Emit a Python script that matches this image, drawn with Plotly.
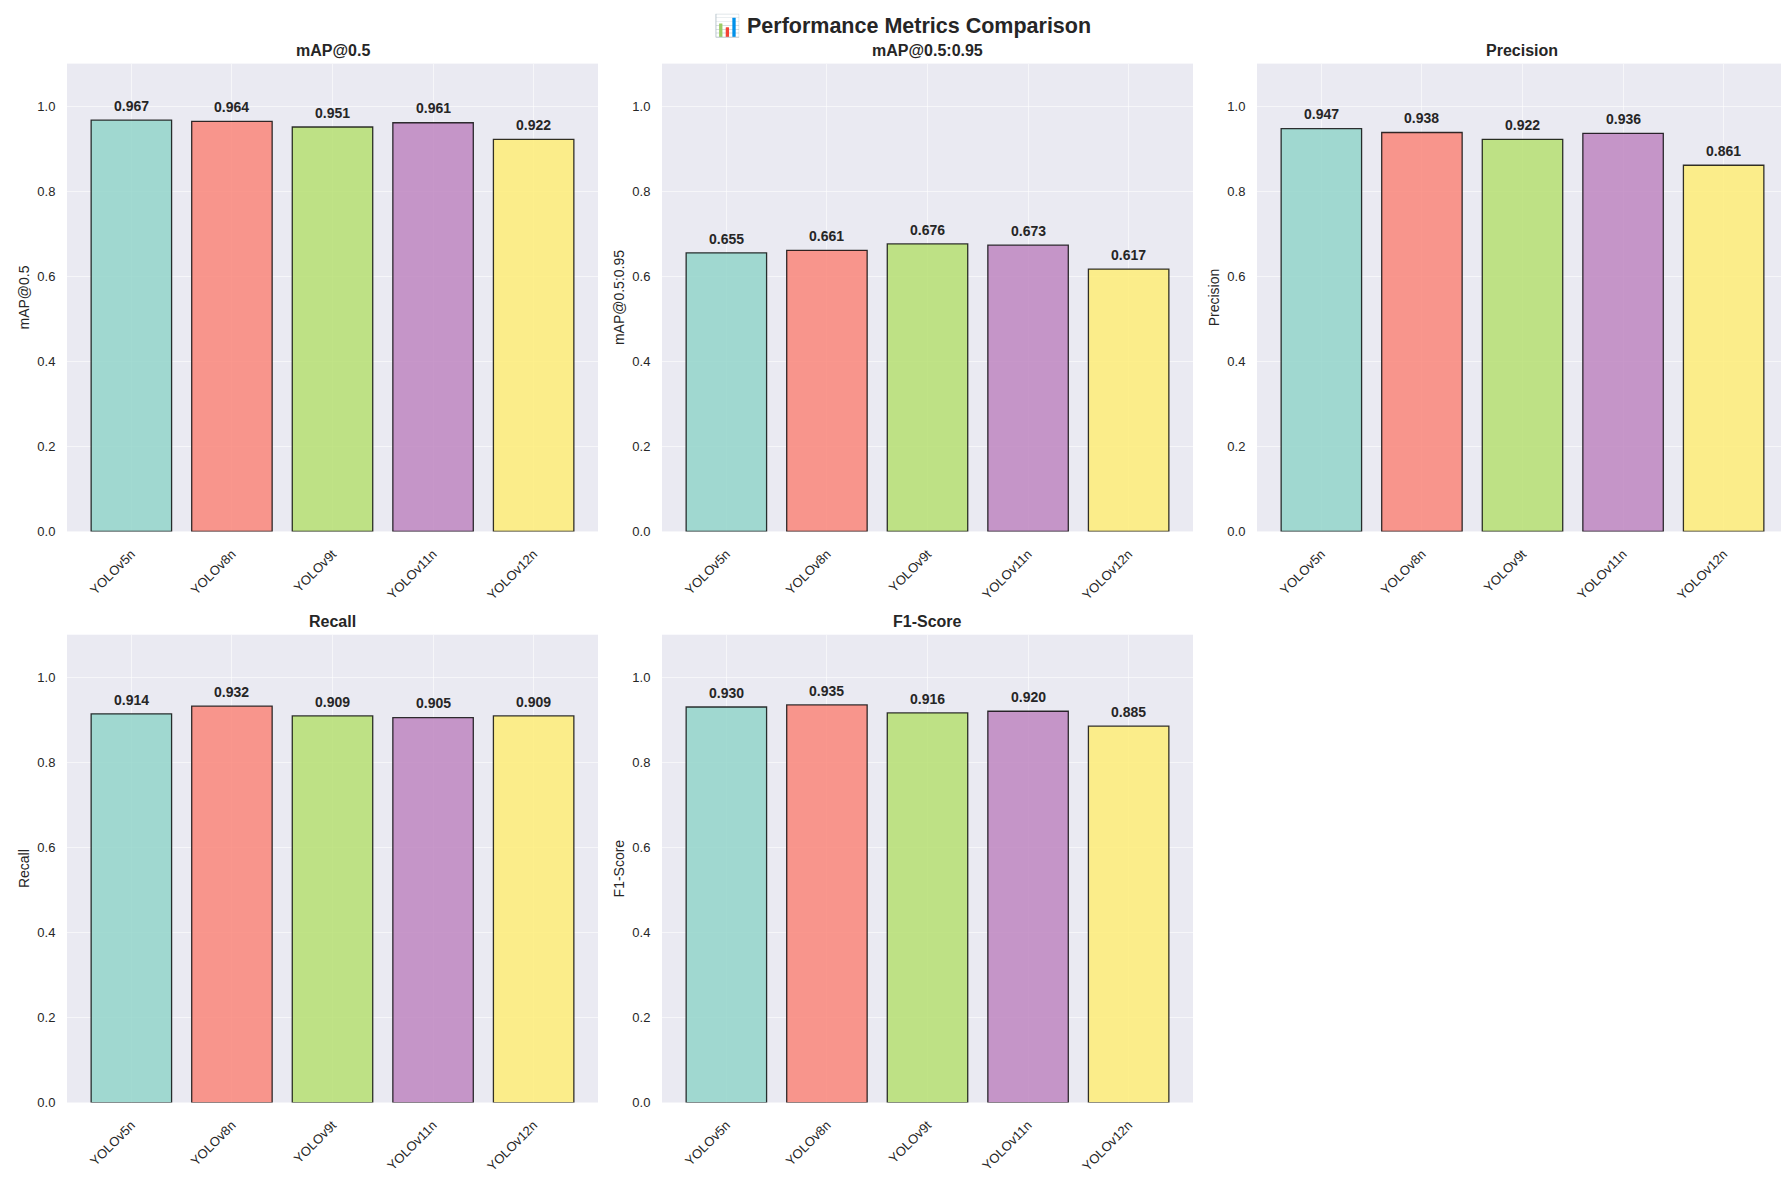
import plotly.graph_objects as go

# model names and metric values
models = ["YOLOv5n", "YOLOv8n", "YOLOv9t", "YOLOv11n", "YOLOv12n"]
metric_names = ["mAP@0.5", "mAP@0.5:0.95", "Precision", "Recall", "F1-Score"]

map50 = [0.967, 0.964, 0.951, 0.961, 0.922]
map50_95 = [0.655, 0.661, 0.676, 0.673, 0.617]
precision = [0.947, 0.938, 0.922, 0.936, 0.861]
recall = [0.914, 0.932, 0.909, 0.905, 0.909]
f1_score = [0.930, 0.935, 0.916, 0.920, 0.885]

y_ticks = [0.0, 0.2, 0.4, 0.6, 0.8, 1.0]

# Set3 colours, alpha 0.8 like the original
bar_colors = ["rgba(141,211,199,0.8)", "rgba(251,128,114,0.8)",
              "rgba(179,222,105,0.8)", "rgba(188,128,189,0.8)",
              "rgba(255,237,111,0.8)"]

FONT = "Liberation Sans, Arial, sans-serif"
TEXT = "#262626"
W, H = 1789, 1180

# subplot boxes in pixels (left, right, top, bottom)
col_x = [(59, 590), (654, 1185), (1249, 1780)]
row_y = [(56, 527), (631, 1102)]

fig = go.Figure()

all_values = [map50, map50_95, precision, recall, f1_score]
annotations = []

for i, (name, vals) in enumerate(zip(metric_names, all_values)):
    r, c = divmod(i, 3)
    ax = "" if i == 0 else str(i + 1)
    x0, x1 = col_x[c]
    top, bot = row_y[r]
    xdom = [x0 / W, x1 / W]
    ydom = [1 - bot / H, 1 - top / H]

    fig.add_trace(go.Bar(
        x=list(range(len(models))), y=vals,
        width=0.8,
        marker=dict(color=bar_colors,
                    line=dict(color="rgba(0,0,0,0.8)", width=1.3)),
        xaxis="x" + ax, yaxis="y" + ax,
        showlegend=False,
    ))

    fig.layout["xaxis" + ax] = dict(
        domain=xdom, anchor="y" + ax,
        range=[-0.64, 4.64],
        tickmode="array", tickvals=list(range(len(models))), ticktext=models,
        tickangle=-45, tickfont=dict(size=13, color=TEXT, family=FONT),
        showgrid=True, gridcolor="rgba(255,255,255,0.55)", gridwidth=1,
        zeroline=False, showline=False,
        ticks="outside", ticklen=9, tickcolor="rgba(0,0,0,0)",
    )
    fig.layout["yaxis" + ax] = dict(
        domain=ydom, anchor="x" + ax,
        range=[0, 1.1],
        tickmode="array", tickvals=y_ticks, tickformat=".1f",
        tickfont=dict(size=13, color=TEXT, family=FONT),
        title=dict(text=name, font=dict(size=14, color=TEXT, family=FONT),
                   standoff=4),
        showgrid=True, gridcolor="rgba(255,255,255,0.55)", gridwidth=1,
        zeroline=False, showline=False,
        ticks="outside", ticklen=8, tickcolor="rgba(0,0,0,0)",
    )

    # subplot title
    annotations.append(dict(
        text="<b>" + name + "</b>", x=(xdom[0] + xdom[1]) / 2,
        y=ydom[1], xref="paper", yref="paper",
        xanchor="center", yanchor="bottom", yshift=3, showarrow=False,
        font=dict(size=16, color=TEXT, family=FONT),
    ))

    # value labels above bars
    for j, v in enumerate(vals):
        annotations.append(dict(
            text="<b>%.3f</b>" % v, x=j, y=v + 0.01,
            xref="x" + ax, yref="y" + ax,
            xanchor="center", yanchor="bottom", showarrow=False,
            font=dict(size=14, color=TEXT, family=FONT),
        ))

annotations.append(dict(
    text="<b>📊 Performance Metrics Comparison</b>", x=0.5, y=1 - 26 / H,
    xref="paper", yref="paper", xanchor="center", yanchor="bottom",
    yshift=-6, showarrow=False,
    font=dict(size=21.5, color=TEXT, family=FONT),
))

fig.update_layout(
    width=W, height=H,
    margin=dict(l=0, r=0, t=0, b=0),
    paper_bgcolor="white", plot_bgcolor="#EAEAF2",
    bargap=0.2,
    annotations=annotations,
    font=dict(family=FONT, color=TEXT),
)

fig.write_html("out.html")
